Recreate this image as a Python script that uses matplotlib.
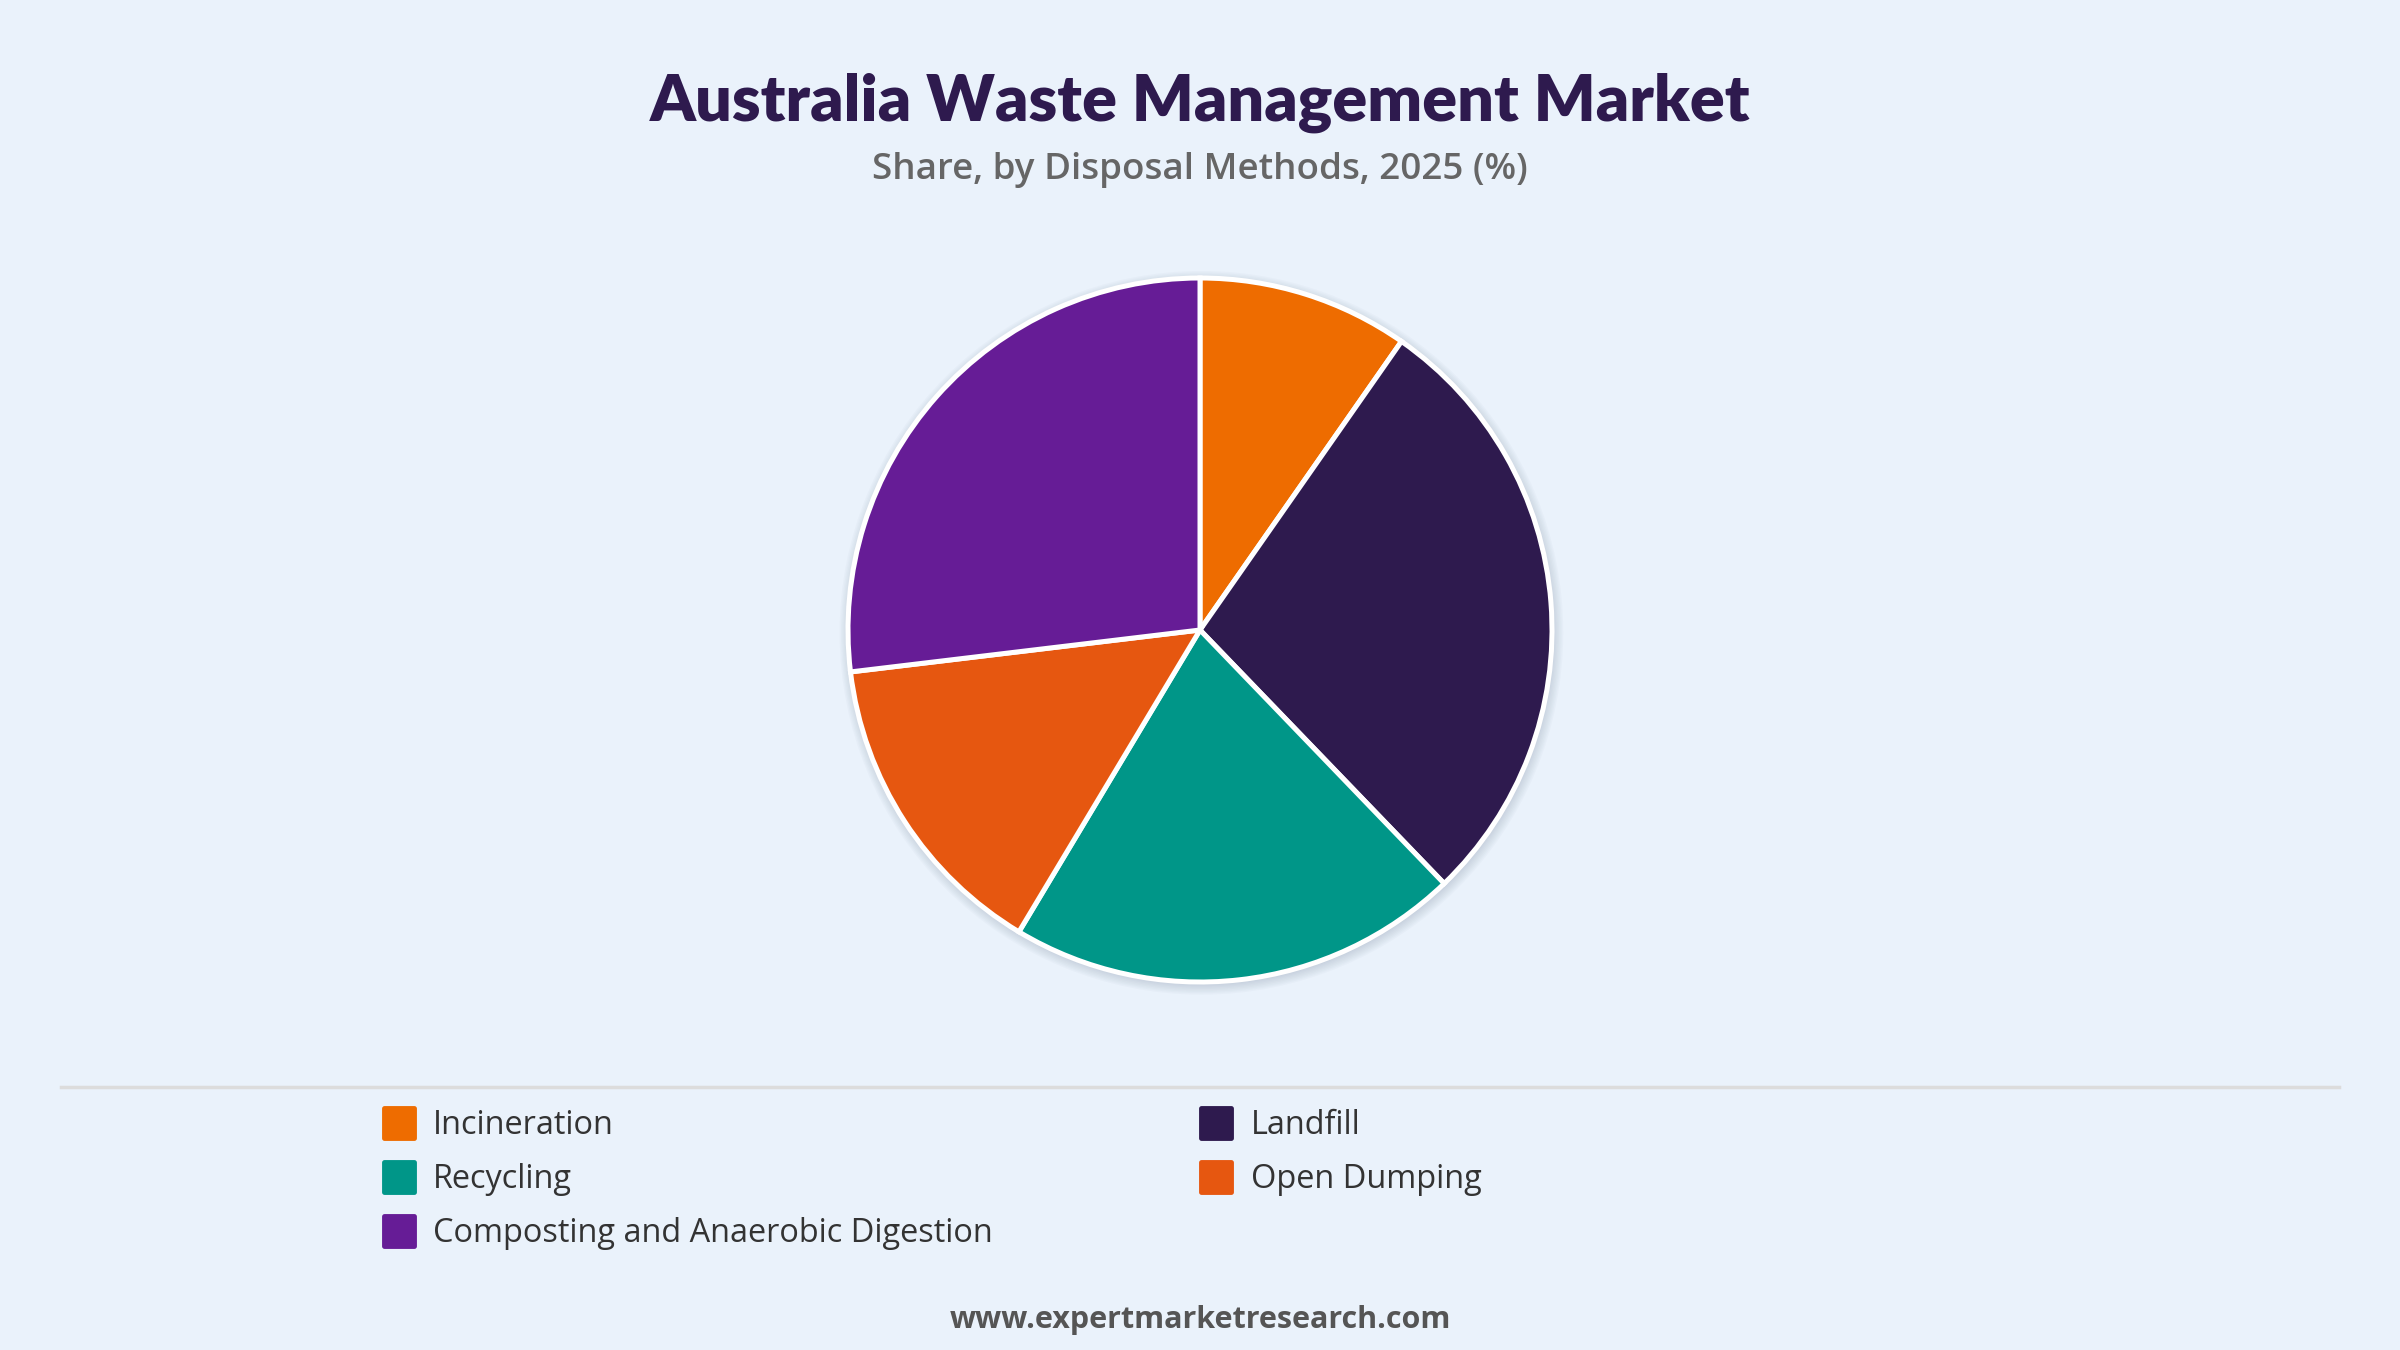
import matplotlib
matplotlib.use("Agg")
import matplotlib.pyplot as plt
from matplotlib.lines import Line2D
from matplotlib.markers import MarkerStyle
from matplotlib.patches import Circle

# data
methods = ["Incineration", "Landfill", "Recycling", "Open Dumping",
           "Composting and Anaerobic Digestion"]
shares = [9.7, 28.1, 20.8, 14.5, 26.9]
colors = ["#EE6C00", "#2E1A4E", "#009688", "#E65710", "#661C96"]

title = "Australia Waste Management Market"
subtitle = "Share, by Disposal Methods, 2025 (%)"
footer = "www.expertmarketresearch.com"

BG = "#EAF2FB"
W, H = 2400, 1350

fig = plt.figure(figsize=(24, 13.5), dpi=100, facecolor=BG)

# pie axes: centre (1200, 630) px, radius 352 px
cx, cy, r = 1200, 630, 352
scale = 1.05
ax = fig.add_axes([(cx - r * scale) / W, (H - cy - r * scale) / H,
                   2 * r * scale / W, 2 * r * scale / H])
ax.set_facecolor("none")

# soft shadow behind the pie
for i in range(8):
    ax.add_patch(Circle((0.004, -0.008), 1.0 + 0.004 * i, color="#7a8aa0",
                        alpha=0.04, lw=0, zorder=0))

wedges, _ = ax.pie(shares, colors=colors, startangle=90, counterclock=False,
                   radius=1.0,
                   wedgeprops=dict(edgecolor="white", linewidth=3.6, zorder=2))
ax.set_xlim(-scale, scale)
ax.set_ylim(-scale, scale)
ax.set_aspect("equal")
ax.axis("off")

fig.text(0.5, 1 - 103 / H, title, ha="center", va="center", fontsize=46.5,
         fontweight="heavy", family="Lato", color="#2E1A4E")
fig.text(0.5, 1 - 170 / H, subtitle, ha="center", va="center", fontsize=26.5,
         family="Open Sans", fontweight="semibold", color="#666666")

# separator
fig.add_artist(Line2D([61 / W, 2339 / W], [1 - 1087 / H] * 2,
                      color="#dcdcdc", lw=2.5))

# legend, row-wise order
order = [0, 2, 4, 1, 3]
mk = MarkerStyle("s", joinstyle="round")
handles = [Line2D([], [], marker=mk, linestyle="none", markersize=21,
                  markerfacecolor=colors[i], markeredgecolor=colors[i],
                  markeredgewidth=3.5) for i in order]
labels = [methods[i] for i in order]
leg = fig.legend(handles, labels, loc="upper left",
                 bbox_to_anchor=(383 / W, 1 - 1109 / H), ncol=2,
                 frameon=False, handlelength=1.0,
                 handletextpad=0.55, labelspacing=0.65, columnspacing=6.37,
                 borderpad=0, borderaxespad=0,
                 prop=dict(family="Open Sans", size=23.4))
for t in leg.get_texts():
    t.set_color("#333333")

fig.text(0.5, 1 - 1320 / H, footer, ha="center", va="center", fontsize=22,
         family="Open Sans", fontweight="bold", color="#555555")

fig.savefig("out.png", dpi=100, facecolor=BG)
